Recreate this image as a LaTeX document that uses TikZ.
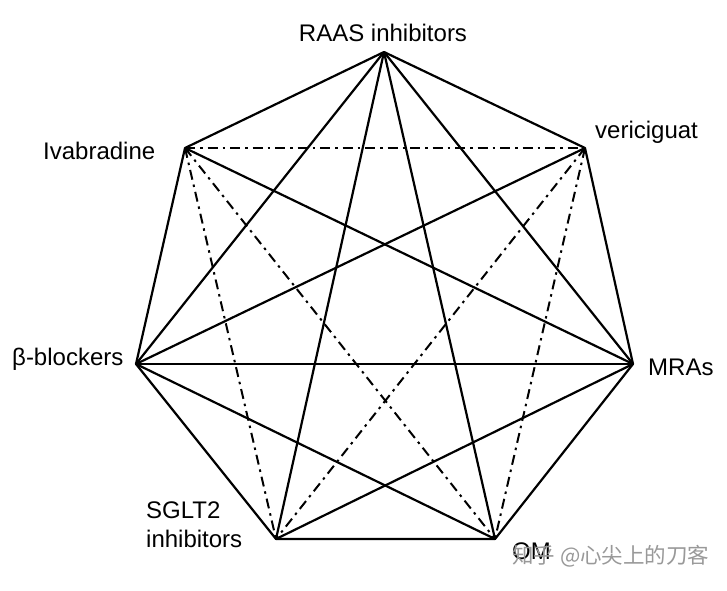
\documentclass[tikz,border=0pt]{standalone}
\usepackage{fontspec}
\setmainfont{Liberation Sans}
\newfontfamily\cjk{Noto Sans CJK SC}
\begin{document}
\begin{tikzpicture}[x=1pt,y=-1pt,
  edge/.style={line width=2.2pt,line join=round},
  dd/.style={line width=2pt,dash pattern=on 10pt off 5pt on 2.5pt off 5pt},
  lab/.style={inner sep=0pt,font=\fontsize{24}{29}\selectfont},
  wm/.style={inner sep=0pt,text=black!40,font=\cjk\fontsize{21.5}{26}\selectfont}]
\useasboundingbox (0,0) rectangle (727,590);
\fill[white] (0,0) rectangle (727,590);
% vertices
\coordinate (R) at (384,52);
\coordinate (V) at (585,148);
\coordinate (M) at (633,364);
\coordinate (O) at (495,539);
\coordinate (S) at (276,539);
\coordinate (B) at (136,364);
\coordinate (I) at (185,148);
% labels
\node[lab,anchor=base] (lR) at (383,41) {RAAS inhibitors};
\node[lab,anchor=base west] (lV) at (595,138) {vericiguat};
\node[lab,anchor=base west] (lI) at (43,159) {Ivabradine};
\node[lab,anchor=base west] (lM) at (648,375) {MRAs};
\node[lab,anchor=base west] (lB) at (12,365) {β-blockers};
\node[lab,anchor=base west,align=left] (lS) at (146,547) {SGLT2\\inhibitors};
\node[lab,anchor=base west] (lO) at (512,559) {OM};
% solid edges
\draw[edge] (R) -- (V) -- (M) -- (O) -- (S) -- (B) -- (I) -- cycle;
\draw[edge] (R) -- (B);
\draw[edge] (R) -- (S);
\draw[edge] (R) -- (O);
\draw[edge] (R) -- (M);
\draw[edge] (I) -- (M);
\draw[edge] (V) -- (B);
\draw[edge] (B) -- (M);
\draw[edge] (B) -- (O);
\draw[edge] (S) -- (M);
% dash-dot edges
\draw[dd] (I) -- (V);
\draw[dd] (I) -- (S);
\draw[dd] (I) -- (O);
\draw[dd] (V) -- (S);
\draw[dd] (V) -- (O);
% watermark
\node[wm,anchor=base west] (wm) at (512,563) {知乎 @心尖上的刀客};
\end{tikzpicture}
\end{document}
